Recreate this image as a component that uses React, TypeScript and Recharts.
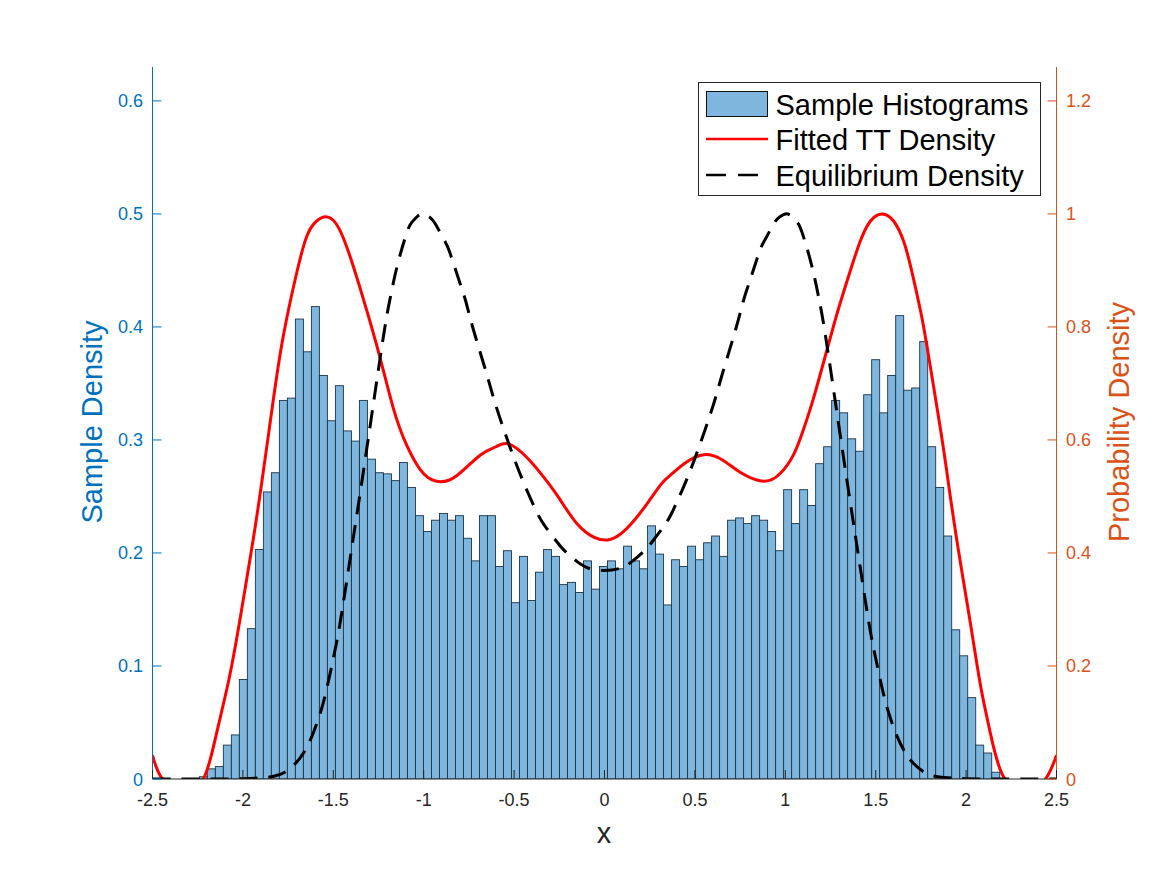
import React from 'react';
import { ComposedChart, Bar, Line, XAxis, YAxis } from 'recharts';

const FONT = '"Liberation Sans", Helvetica, Arial, sans-serif';
const BLUE = '#0072BD';
const ORANGE = '#D95319';
const DARK = '#262626';

// Histogram heights (left axis), one per bin, left to right
const histValues = [
  0.002, 0.009, 0.011, 0.030, 0.039, 0.088, 0.133, 0.203, 0.254, 0.271,
  0.335, 0.337, 0.407, 0.378, 0.418, 0.357, 0.317, 0.348, 0.308, 0.299,
  0.335, 0.283, 0.271, 0.270, 0.264, 0.280, 0.258, 0.233, 0.219, 0.229,
  0.235, 0.229, 0.233, 0.213, 0.193, 0.233, 0.233, 0.188, 0.202, 0.156,
  0.197, 0.158, 0.183, 0.203, 0.197, 0.172, 0.174, 0.165, 0.193, 0.168,
  0.188, 0.193, 0.186, 0.206, 0.193, 0.186, 0.224, 0.199, 0.154, 0.194,
  0.188, 0.206, 0.194, 0.209, 0.215, 0.197, 0.229, 0.231, 0.226, 0.233,
  0.229, 0.219, 0.202, 0.256, 0.226, 0.256, 0.242, 0.279, 0.294, 0.335,
  0.324, 0.301, 0.290, 0.340, 0.371, 0.324, 0.357, 0.410, 0.344, 0.346,
  0.387, 0.294, 0.258, 0.215, 0.132, 0.109, 0.072, 0.030, 0.023, 0.006,
];
const firstBinCenter = -2.2188;
const binWidth = 0.04427;

// Fitted TT density (right axis)
const ttX = [
  -2.5, -2.445, -2.33, -2.219, -2.15, -2.08, -2.02, -1.95, -1.9, -1.83, -1.776, -1.703,
  -1.647, -1.6, -1.545, -1.49, -1.444, -1.389, -1.311, -1.241, -1.167, -1.093, -1.0, -0.909, -0.816, -0.688,
  -0.6, -0.53, -0.42, -0.319, -0.245, -0.153, -0.06, 0.017, 0.087, 0.16, 0.235, 0.309, 0.355, 0.45, 0.55,
  0.65, 0.75, 0.88, 0.973, 1.046, 1.1, 1.157, 1.231, 1.295, 1.36, 1.415, 1.47, 1.535, 1.6, 1.655, 1.70, 1.747, 1.784,
  1.858, 1.895, 1.95, 2.024, 2.08, 2.135, 2.207, 2.33, 2.439, 2.5,
];
const ttY = [
  0.042, 0, -0.02, 0, 0.075, 0.172, 0.275, 0.41, 0.515, 0.675, 0.785, 0.895,
  0.96, 0.985, 0.995, 0.985, 0.957, 0.907, 0.825, 0.745, 0.655, 0.59, 0.54, 0.526, 0.537, 0.573,
  0.588, 0.593, 0.566, 0.527, 0.494, 0.452, 0.428, 0.423, 0.433, 0.456, 0.487, 0.52, 0.535, 0.56, 0.574,
  0.565, 0.543, 0.527, 0.541, 0.574, 0.618, 0.675, 0.76, 0.833, 0.9, 0.952, 0.987, 1.0, 0.987, 0.951, 0.898, 0.83, 0.765,
  0.62, 0.54, 0.42, 0.275, 0.165, 0.08, 0.004, -0.02, 0, 0.042,
];

// Equilibrium density (right axis)
const eqX = [
  -2.5, -2.2, -2.0, -1.9, -1.794, -1.711, -1.665, -1.619, -1.573, -1.536, -1.499, -1.463, -1.407,
  -1.352, -1.287, -1.222, -1.186, -1.145, -1.094, -1.066, -1.03, -1.0, -0.97, -0.937, -0.887, -0.857, -0.802, -0.767, -0.725,
  -0.65, -0.6, -0.52, -0.448, -0.374, -0.328, -0.276, -0.227, -0.153, -0.088, 0,
  0.088, 0.153, 0.227, 0.276, 0.328, 0.374, 0.448, 0.52, 0.6, 0.65, 0.725, 0.767, 0.802, 0.857, 0.887,
  0.937, 0.97, 1.0, 1.03, 1.066, 1.094, 1.145, 1.186, 1.222, 1.287, 1.352, 1.407, 1.463, 1.499, 1.536,
  1.573, 1.619, 1.665, 1.711, 1.794, 1.9, 2.0, 2.2, 2.5,
];
const eqY = [
  0, 0, 0.0005, 0.002, 0.008, 0.027, 0.046, 0.075, 0.116, 0.16, 0.215, 0.275, 0.39,
  0.505, 0.645, 0.785, 0.85, 0.91, 0.966, 0.985, 0.997, 1.0, 0.995, 0.983, 0.954, 0.933, 0.88, 0.845, 0.795,
  0.715, 0.66, 0.585, 0.525, 0.472, 0.447, 0.425, 0.406, 0.385, 0.373, 0.369,
  0.373, 0.385, 0.406, 0.425, 0.447, 0.472, 0.525, 0.585, 0.66, 0.715, 0.795, 0.845, 0.88, 0.933, 0.954,
  0.983, 0.995, 1.0, 0.997, 0.985, 0.966, 0.91, 0.85, 0.785, 0.645, 0.505, 0.39, 0.275, 0.215, 0.16,
  0.116, 0.075, 0.046, 0.027, 0.008, 0.002, 0.0005, 0, 0,
];

const xTicks = [-2.5, -2, -1.5, -1, -0.5, 0, 0.5, 1, 1.5, 2, 2.5];
const leftTicks = [0, 0.1, 0.2, 0.3, 0.4, 0.5, 0.6];
const rightTicks = [0, 0.2, 0.4, 0.6, 0.8, 1, 1.2];

const histRows = histValues.map((v, i) => ({ x: firstBinCenter + binWidth * i, hist: v }));
const ttRows = ttX.map((x, i) => ({ x, tt: ttY[i] }));
const eqRows = eqX.map((x, i) => ({ x, eq: eqY[i] }));

const TICK = 9;
const BAR_PX = 8;

const BottomTick = (p: any) => (
  <g>
    <line x1={p.x} x2={p.x} y1={779} y2={779 - TICK} stroke={DARK} strokeWidth={1} />
    <text x={p.x} y={806} textAnchor="middle" fontFamily={FONT} fontSize={18} fill={DARK}>
      {String(p.payload.value)}
    </text>
  </g>
);
const TopTick = (p: any) => (
  <line x1={p.x} x2={p.x} y1={67} y2={67 + TICK} stroke={DARK} strokeWidth={1} />
);
const LeftTick = (p: any) => (
  <g>
    <line x1={152.5} x2={152.5 + TICK} y1={p.y} y2={p.y} stroke={BLUE} strokeWidth={1} />
    <text x={143} y={p.y + 6.5} textAnchor="end" fontFamily={FONT} fontSize={18} fill={BLUE}>
      {String(p.payload.value)}
    </text>
  </g>
);
const RightTick = (p: any) => (
  <g>
    <line x1={1056.5} x2={1056.5 - TICK} y1={p.y} y2={p.y} stroke={ORANGE} strokeWidth={1} />
    <text x={1066} y={p.y + 6.5} textAnchor="start" fontFamily={FONT} fontSize={18} fill={ORANGE}>
      {String(p.payload.value)}
    </text>
  </g>
);

// Keeps the centre and height the library computed; the width spans one bin.
const HistBar = (p: any) => (
  <rect
    x={p.x + p.width / 2 - BAR_PX / 2} y={p.y} width={BAR_PX} height={p.height}
    fill="#7EB6DE" stroke="#1B3547" strokeWidth={0.9}
  />
);

const LegendBox = () => {
  const row: React.CSSProperties = {
    position: 'absolute', left: 77, fontFamily: FONT, fontSize: 29, color: '#000', lineHeight: '36px', whiteSpace: 'nowrap',
  };
  return (
    <div style={{ position: 'absolute', left: 697.5, top: 82, width: 343, height: 114, background: '#fff', border: '1px solid #262626', boxSizing: 'border-box' }}>
      <div style={{ position: 'absolute', left: 7, top: 8, width: 62, height: 26, boxSizing: 'border-box', background: '#7EB6DE', border: '1px solid #111' }} />
      <div style={{ ...row, top: 4 }}>Sample Histograms</div>
      <svg style={{ position: 'absolute', left: 7, top: 40 }} width={62} height={70}>
        <line x1={0} x2={62} y1={16} y2={16} stroke="#FF0000" strokeWidth={2.5} />
        <line x1={0} x2={62} y1={52} y2={52} stroke="#000" strokeWidth={2.5} strokeDasharray="20 12" />
      </svg>
      <div style={{ ...row, top: 39 }}>Fitted TT Density</div>
      <div style={{ ...row, top: 75 }}>Equilibrium Density</div>
    </div>
  );
};

const axisTitle = (value: string, x: number, y: number, fill: string, rotate: boolean) => () => (
  <text
    x={x} y={y} textAnchor="middle" dominantBaseline="central" fontFamily={FONT} fontSize={29} fill={fill}
    transform={rotate ? `rotate(-90 ${x} ${y})` : undefined}
  >
    {value}
  </text>
);

export default function App() {
  return (
    <div style={{ position: 'absolute', left: 0, top: 0, width: 1167, height: 875, background: '#fff' }}>
      <ComposedChart
        width={1167}
        height={875}
        data={histRows}
        margin={{ top: 67, right: 50.5, bottom: 46, left: 92.5 }}
      >
        <XAxis
          xAxisId="b" dataKey="x" type="number" domain={[-2.5, 2.5]} ticks={xTicks} allowDataOverflow
          height={50} stroke={DARK} tick={<BottomTick />} tickLine={false} interval={0}
          label={{ content: axisTitle('x', 604, 833, DARK, false) }}
        />
        <XAxis
          xAxisId="t" dataKey="x" type="number" orientation="top" domain={[-2.5, 2.5]} ticks={xTicks} allowDataOverflow
          height={0} stroke={DARK} tick={<TopTick />} tickLine={false} interval={0}
        />
        <YAxis
          yAxisId="l" type="number" domain={[0, 0.63]} ticks={leftTicks} allowDataOverflow width={60}
          stroke={BLUE} tick={<LeftTick />} tickLine={false} interval={0}
          label={{ content: axisTitle('Sample Density', 92, 422, BLUE, true) }}
        />
        <YAxis
          yAxisId="r" orientation="right" type="number" domain={[0, 1.26]} ticks={rightTicks} allowDataOverflow width={60}
          stroke={ORANGE} tick={<RightTick />} tickLine={false} interval={0}
          label={{ content: axisTitle('Probability Density', 1119, 422, ORANGE, true) }}
        />
        <Bar
          xAxisId="b" yAxisId="l" dataKey="hist" barSize={8} shape={<HistBar />}
          isAnimationActive={false} name="Sample Histograms"
        />
        <Line
          xAxisId="b" yAxisId="r" data={ttRows} dataKey="tt" type="natural" stroke="#FF0000" strokeWidth={3}
          dot={false} activeDot={false} isAnimationActive={false} name="Fitted TT Density"
        />
        <Line
          xAxisId="b" yAxisId="r" data={eqRows} dataKey="eq" type="natural" stroke="#000" strokeWidth={3}
          strokeDasharray="18 11" dot={false} activeDot={false} isAnimationActive={false} name="Equilibrium Density"
        />
      </ComposedChart>
      <LegendBox />
    </div>
  );
}
